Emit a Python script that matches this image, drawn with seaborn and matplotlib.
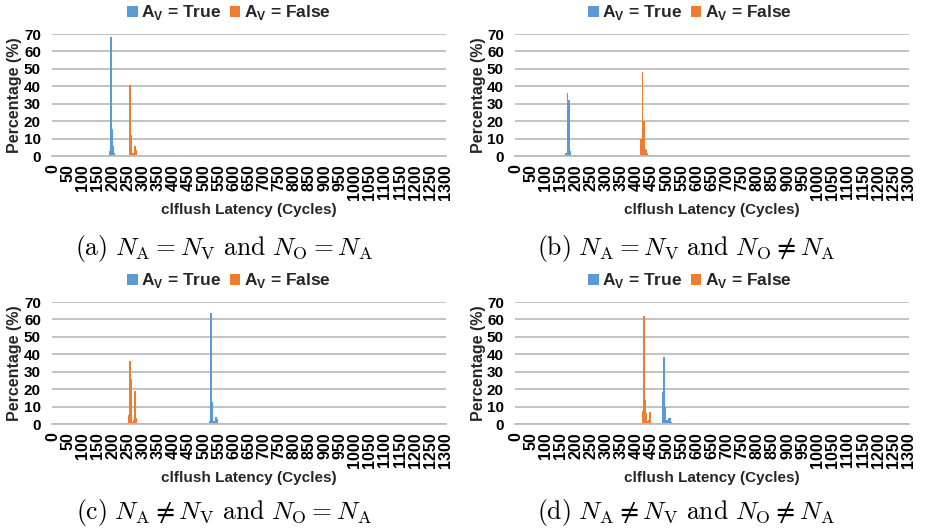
import pandas as pd
import matplotlib.pyplot as plt
import seaborn as sns

# ---- data (cycles, percentage) ----
a_true_x = [188, 192, 196, 200, 204, 208, 216, 224, 232]
a_true_y = [3.0, 68.0, 15.5, 6.0, 1.5, 0.5, 0.3, 0.2, 0.2]
a_false_x = [200, 256, 260, 264, 268, 272, 276, 280, 288, 296, 304, 312, 320, 336, 352, 368, 384, 400, 416, 432, 448]
a_false_y = [0.4, 41.0, 12.0, 1.5, 2.0, 6.0, 3.5, 0.8, 0.4, 0.3, 0.3, 0.3, 0.2, 0.2, 0.2, 0.2, 0.3, 0.3, 0.3, 0.3, 0.2]

b_true_x = [168, 172, 176, 180, 184, 192, 200, 208]
b_true_y = [2.0, 36.0, 32.0, 3.0, 0.6, 0.3, 0.2, 0.2]
b_false_x = [184, 248, 416, 420, 424, 428, 432, 436, 440, 448, 456, 464, 480, 496, 512, 528, 544, 560]
b_false_y = [0.5, 0.5, 10.0, 48.0, 20.0, 4.0, 3.5, 1.5, 0.8, 0.5, 0.4, 0.3, 0.3, 0.3, 0.3, 0.3, 0.2, 0.2]

c_true_x = [520, 524, 528, 532, 536, 540, 544, 548, 556, 572, 588, 604, 620, 636, 652]
c_true_y = [2.0, 63.5, 12.8, 2.0, 1.5, 4.0, 2.7, 0.8, 0.4, 0.3, 0.3, 0.2, 0.2, 0.2, 0.2]
c_false_x = [252, 256, 260, 264, 268, 272, 276, 280, 288, 304, 320, 336, 352, 368, 384, 400, 416]
c_false_y = [5.2, 36.0, 26.0, 1.3, 2.5, 19.0, 3.5, 0.8, 0.4, 0.3, 0.3, 0.3, 0.2, 0.2, 0.2, 0.2, 0.2]

d_true_x = [488, 492, 496, 500, 504, 508, 512, 516, 520, 528, 544, 560, 576, 592, 608, 624]
d_true_y = [18.2, 38.3, 10.0, 2.3, 1.0, 3.2, 3.4, 1.3, 0.5, 0.3, 0.3, 0.2, 0.2, 0.2, 0.2, 0.2]
d_false_x = [420, 424, 428, 432, 436, 440, 444, 448, 456, 472, 488, 504, 520, 536, 552]
d_false_y = [7.5, 62.0, 13.8, 6.5, 2.0, 2.3, 6.7, 0.8, 0.4, 0.3, 0.3, 0.3, 0.2, 0.2, 0.2]

captions = [
    r"$\mathrm{(a)}\ N_\mathrm{A} = N_\mathrm{V}\ \mathrm{and}\ N_\mathrm{O} = N_\mathrm{A}$",
    r"$\mathrm{(b)}\ N_\mathrm{A} = N_\mathrm{V}\ \mathrm{and}\ N_\mathrm{O} \neq N_\mathrm{A}$",
    r"$\mathrm{(c)}\ N_\mathrm{A} \neq N_\mathrm{V}\ \mathrm{and}\ N_\mathrm{O} = N_\mathrm{A}$",
    r"$\mathrm{(d)}\ N_\mathrm{A} \neq N_\mathrm{V}\ \mathrm{and}\ N_\mathrm{O} \neq N_\mathrm{A}$",
]
label_true = r"A$_\mathbf{V}$ = True"
label_false = r"A$_\mathbf{V}$ = False"
x_ticks = list(range(0, 1301, 50))
y_ticks = list(range(0, 71, 10))

BLUE = "#5B9BD5"
ORANGE = "#ED7D31"
GRID = "#BDBDBD"

sns.set_theme(style="white")
plt.rcParams["font.family"] = ["Liberation Sans", "DejaVu Sans"]
plt.rcParams["font.weight"] = "bold"
plt.rcParams["mathtext.fontset"] = "custom"
plt.rcParams["mathtext.bf"] = "Liberation Sans:bold"
plt.rcParams["mathtext.rm"] = "Liberation Sans:bold"

W, H = 926, 531
fig = plt.figure(figsize=(W / 100, H / 100), dpi=100)

panels = [
    (a_true_x, a_true_y, a_false_x, a_false_y),
    (b_true_x, b_true_y, b_false_x, b_false_y),
    (c_true_x, c_true_y, c_false_x, c_false_y),
    (d_true_x, d_true_y, d_false_x, d_false_y),
]
# pixel layout of each panel: plot-area left, top, bottom; legend centre; caption centre
lefts = [52, 515, 52, 515]
tops = [34, 34, 302, 302]
bottoms = [156, 156, 424, 424]
legend_xc = [229, 690, 229, 690]
legend_yc = [13, 13, 281, 281]
cap_xc = [224, 686, 224, 686]
cap_yc = [248, 248, 513, 513]
xlab_yc = [210, 210, 478, 478]
plot_w = 394

for i, (tx, ty, fx, fy) in enumerate(panels):
    ax = fig.add_axes([lefts[i] / W, 1 - bottoms[i] / H, plot_w / W, (bottoms[i] - tops[i]) / H])
    df = pd.concat([
        pd.DataFrame({"cycles": tx, "pct": ty, "series": label_true}),
        pd.DataFrame({"cycles": fx, "pct": fy, "series": label_false}),
    ])
    sns.barplot(data=df, x="cycles", y="pct", hue="series",
                hue_order=[label_true, label_false], palette=[BLUE, ORANGE],
                saturation=1, native_scale=True, dodge=False, width=1.5,
                linewidth=0, errorbar=None, ax=ax)
    handles, labels = ax.get_legend_handles_labels()
    ax.get_legend().remove()
    fig.legend(handles, labels, loc="center", ncol=2, frameon=False,
               bbox_to_anchor=(legend_xc[i] / W, 1 - legend_yc[i] / H),
               handlelength=0.6, handleheight=0.6, handletextpad=0.2,
               columnspacing=0.5, prop={"weight": "bold", "size": 12.5})

    ax.set_xlim(-2, 1302)
    ax.set_ylim(0, 70)
    ax.set_xticks(x_ticks)
    ax.set_xticklabels([str(t) for t in x_ticks], rotation=90, fontsize=11.5, fontweight="bold")
    ax.set_yticks(y_ticks)
    ax.set_yticklabels([str(t) for t in y_ticks], fontsize=11, fontweight="bold")
    ax.tick_params(axis="both", length=0, colors="black")
    ax.tick_params(axis="y", pad=8)
    ax.tick_params(axis="x", pad=6)
    ax.yaxis.grid(True, color=GRID, linewidth=1.3)
    ax.xaxis.grid(False)
    ax.set_axisbelow(True)
    for s in ["top", "left", "right"]:
        ax.spines[s].set_visible(False)
    ax.spines["bottom"].set_color(GRID)
    ax.spines["bottom"].set_linewidth(1.3)
    ax.set_xlabel("")
    ax.set_ylabel("")

    fig.text((lefts[i] - 37) / W, 1 - ((tops[i] + bottoms[i]) / 2) / H, "Percentage (%)",
             rotation=90, ha="center", va="center", fontsize=11.5, fontweight="bold")
    fig.text((lefts[i] + plot_w / 2) / W, 1 - xlab_yc[i] / H, "clflush Latency (Cycles)",
             ha="center", va="center", fontsize=11, fontweight="bold")
    fig.text(cap_xc[i] / W, 1 - cap_yc[i] / H, captions[i], ha="center", va="center",
             fontsize=18.5, math_fontfamily="cm", color="black")

fig.savefig("out.png", dpi=100, facecolor="white")
